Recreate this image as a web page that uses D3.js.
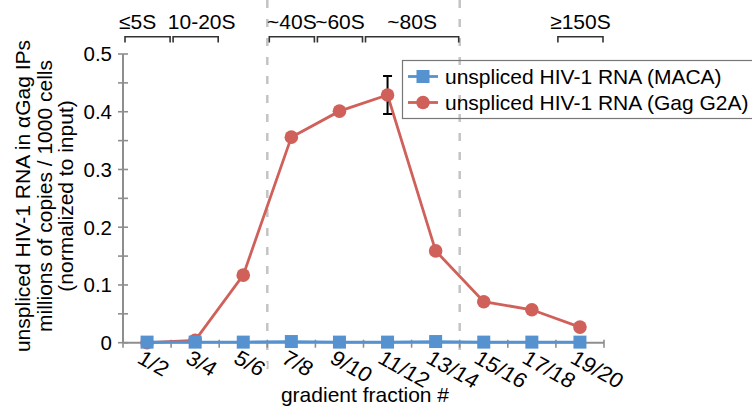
<!DOCTYPE html>
<html>
<head>
<meta charset="utf-8">
<script src="https://cdn.jsdelivr.net/npm/d3@7"></script>
<style>
  body { margin: 0; background: #fff; }
  svg text { font-family: "Liberation Sans", Arial, sans-serif; fill: #000; }
</style>
</head>
<body>
<svg id="chart" width="752" height="406"></svg>
<script>
const fractions = ["1/2", "3/4", "5/6", "7/8", "9/10", "11/12", "13/14", "15/16", "17/18", "19/20"];
const macaValues = [0.001, 0.001, 0.001, 0.002, 0.001, 0.001, 0.002, 0.001, 0.001, 0.001];
const gagValues = [0, 0.004, 0.117, 0.356, 0.401, 0.429, 0.159, 0.071, 0.057, 0.027];
const gagErrors = [0, 0, 0, 0, 0, 0.033, 0, 0, 0, 0];
const yTicks = [0, 0.1, 0.2, 0.3, 0.4, 0.5];
const seriesNames = ["unspliced HIV-1 RNA (MACA)", "unspliced HIV-1 RNA (Gag G2A)"];

// sedimentation ranges: label, first fraction, last fraction
const sizeLabels = ["≤5S", "10-20S", "~40S", "~60S", "~80S", "≥150S"];
const sizeStart = ["1/2", "3/4", "7/8", "9/10", "11/12", "19/20"];
const sizeEnd = ["1/2", "3/4", "7/8", "9/10", "13/14", "19/20"];
// dashed dividers sit before these fractions
const dividers = ["7/8", "15/16"];

const blue = "#5592cf";
const red = "#d0605a";
const axisGray = "#8e8e8e";

let svg = d3.select("#chart");

let x = d3.scaleBand()
  .domain(fractions)
  .range([123, 604])
  .padding(0);

let y = d3.scaleLinear()
  .domain([0, 0.5])
  .range([342.7, 54]);

let cx = function(f) { return x(f) + x.bandwidth() / 2; };

// dashed dividers
svg.selectAll(".divider")
  .data(dividers)
  .join("line")
    .attr("class", "divider")
    .attr("x1", d => x(d))
    .attr("x2", d => x(d))
    .attr("y1", 0)
    .attr("y2", 378)
    .style("stroke", "#c4c4c4")
    .style("stroke-width", 2.5)
    .style("stroke-dasharray", "8,11");

// brackets with size labels
let labelNudge = [-10, 6, 0, 0, 0, 0];
let brackets = svg.selectAll(".bracket")
  .data(sizeLabels.map((d, i) => ({ label: d, x0: x(sizeStart[i]) + 2, x1: x(sizeEnd[i]) + x.bandwidth() - 1, nudge: labelNudge[i] })))
  .join("g")
    .attr("class", "bracket");

brackets.append("path")
  .attr("d", d => `M${d.x0},42.5V36.7H${d.x1}V42.5`)
  .style("fill", "none")
  .style("stroke", "#333")
  .style("stroke-width", 1.6);

brackets.append("text")
  .attr("x", d => (d.x0 + d.x1) / 2 + d.nudge)
  .attr("y", 28.5)
  .attr("text-anchor", "middle")
  .style("font-size", "21px")
  .text(d => d.label);

// y axis
svg.append("line")
  .attr("x1", 123).attr("x2", 123)
  .attr("y1", y(0.5)).attr("y2", y(0))
  .style("stroke", axisGray)
  .style("stroke-width", 2);

svg.selectAll(".yminor")
  .data(d3.range(0, 0.51, 0.05))
  .join("line")
    .attr("class", "yminor")
    .attr("x1", 118).attr("x2", 128)
    .attr("y1", d => y(d)).attr("y2", d => y(d))
    .style("stroke", axisGray)
    .style("stroke-width", 1.6);

svg.selectAll(".ylabel")
  .data(yTicks)
  .join("text")
    .attr("class", "ylabel")
    .attr("x", 112)
    .attr("y", d => y(d))
    .attr("dy", "0.36em")
    .attr("text-anchor", "end")
    .style("font-size", "20.5px")
    .text(d => d3.format("")(d));

// x axis
svg.append("line")
  .attr("x1", 123).attr("x2", 604)
  .attr("y1", y(0)).attr("y2", y(0))
  .style("stroke", axisGray)
  .style("stroke-width", 2);

svg.selectAll(".xtick")
  .data(fractions.map(f => x(f)).concat([x.range()[1]]))
  .join("line")
    .attr("class", "xtick")
    .attr("x1", d => d).attr("x2", d => d)
    .attr("y1", y(0) - 3).attr("y2", y(0) + 5)
    .style("stroke", axisGray)
    .style("stroke-width", 1.6);

svg.selectAll(".xlabel")
  .data(fractions)
  .join("text")
    .attr("class", "xlabel")
    .attr("transform", d => `translate(${cx(d) - 11},${362}) scale(1.08,1) rotate(31)`)
    .style("font-size", "21px")
    .style("stroke", "#fff")
    .style("stroke-width", 4)
    .style("paint-order", "stroke")
    .text(d => d);

svg.append("text")
  .attr("x", 365)
  .attr("y", 401.5)
  .attr("text-anchor", "middle")
  .style("font-size", "21px")
  .text("gradient fraction #");

// y title, three lines
let yTitle = ["unspliced HIV-1 RNA in αGag IPs", "millions of copies / 1000 cells", "(normalized to input)"];
svg.selectAll(".ytitle")
  .data(yTitle)
  .join("text")
    .attr("class", "ytitle")
    .attr("transform", (d, i) => `translate(${30 + i * 21.5},196) rotate(-90)`)
    .attr("text-anchor", "middle")
    .style("font-size", "21px")
    .text(d => d);

// series lines
let line = d3.line()
  .x((d, i) => cx(fractions[i]))
  .y(d => y(d));

svg.append("path")
  .datum(gagValues)
  .attr("d", line)
  .style("fill", "none")
  .style("stroke", red)
  .style("stroke-width", 2.8);

// error bars
let errData = gagValues.map((v, i) => ({ f: fractions[i], v: v, e: gagErrors[i] })).filter(d => d.e > 0);
svg.selectAll(".errbar")
  .data(errData)
  .join("path")
    .attr("class", "errbar")
    .attr("d", d => `M${cx(d.f) - 4.5},${y(d.v + d.e)}H${cx(d.f) + 4.5}M${cx(d.f)},${y(d.v + d.e)}V${y(d.v - d.e)}M${cx(d.f) - 4.5},${y(d.v - d.e)}H${cx(d.f) + 4.5}`)
    .style("fill", "none")
    .style("stroke", "#000")
    .style("stroke-width", 2);

svg.selectAll(".gagdot")
  .data(gagValues)
  .join("circle")
    .attr("class", "gagdot")
    .attr("cx", (d, i) => cx(fractions[i]))
    .attr("cy", d => y(d))
    .attr("r", 6.8)
    .style("fill", red);

svg.append("path")
  .datum(macaValues)
  .attr("d", line)
  .style("fill", "none")
  .style("stroke", blue)
  .style("stroke-width", 2.8);

svg.selectAll(".macadot")
  .data(macaValues)
  .join("rect")
    .attr("class", "macadot")
    .attr("x", (d, i) => cx(fractions[i]) - 6.5)
    .attr("y", d => y(d) - 6.5)
    .attr("width", 13)
    .attr("height", 13)
    .style("fill", blue);

// legend
let legend = svg.append("g");
legend.append("rect")
  .attr("x", 402.5).attr("y", 60.5)
  .attr("width", 360).attr("height", 58)
  .style("fill", "none")
  .style("stroke", "#777")
  .style("stroke-width", 1.2);

let rows = legend.selectAll(".legrow")
  .data(seriesNames)
  .join("g")
    .attr("class", "legrow")
    .attr("transform", (d, i) => `translate(0,${76.5 + i * 26})`);

rows.append("line")
  .attr("x1", 408).attr("x2", 438)
  .style("stroke", (d, i) => i == 0 ? blue : red)
  .style("stroke-width", 2.8);

rows.each(function(d, i) {
  let g = d3.select(this);
  if (i == 0) {
    g.append("rect").attr("x", 416.5).attr("y", -6.5).attr("width", 13).attr("height", 13).style("fill", blue);
  } else {
    g.append("circle").attr("cx", 423).attr("cy", 0).attr("r", 6.8).style("fill", red);
  }
});

rows.append("text")
  .attr("x", 445)
  .attr("dy", "0.36em")
  .style("font-size", "21px")
  .text(d => d);
</script>
</body>
</html>
